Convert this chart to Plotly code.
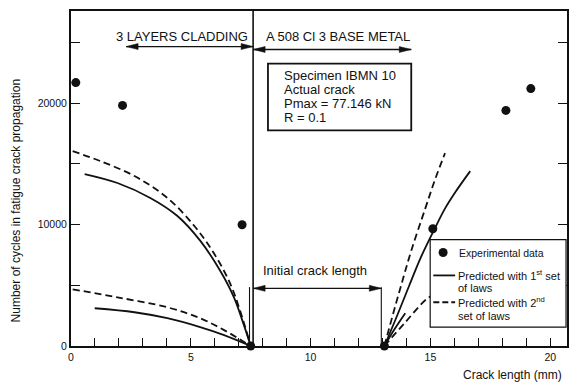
import plotly.graph_objects as go

FONT = "Liberation Sans, Arial, Helvetica, sans-serif"
INK = "#111111"

# Experimental crack depths (mm) and cycle counts
exp_x = [0.2, 2.15, 7.14, 7.5, 13.08, 15.1, 18.15, 19.19]
exp_y = [21700, 19820, 9990, 0, 0, 9660, 19410, 21210]

# Predictions on the cladding side (crack growing towards the clad surface)
clad_set1_upper_x = [0.57, 1.94, 3.31, 4.43, 5.39, 6.22, 6.8, 7.22, 7.5]
clad_set1_upper_y = [14170, 13430, 12200, 10730, 8680, 6220, 4010, 1700, 0]
clad_set2_upper_x = [0.07, 1.23, 2.65, 4.02, 5.14, 5.97, 6.64, 7.05, 7.5]
clad_set2_upper_y = [16050, 15230, 14000, 12200, 9910, 7620, 5160, 2950, 0]
clad_set1_lower_x = [0.99, 2.65, 4.02, 5.39, 6.39, 7.5]
clad_set1_lower_y = [3110, 2780, 2290, 1560, 900, 0]
clad_set2_lower_x = [0.07, 1.94, 4.02, 5.39, 6.39, 7.5]
clad_set2_lower_y = [4670, 4010, 3190, 2290, 1310, 0]

# Predictions on the base metal side
base_set1_upper_x = [13.08, 13.6, 14.1, 14.6, 15.2, 15.6, 16.03, 16.66]
base_set1_upper_y = [0, 2450, 4900, 7300, 9750, 11300, 12650, 14410]
base_set2_upper_x = [13.08, 13.45, 13.8, 14.2, 14.78, 15.2, 15.61]
base_set2_upper_y = [0, 2700, 5150, 7850, 11300, 13750, 15890]
base_set1_lower_x = [13.08, 13.5, 13.95]
base_set1_lower_y = [0, 1380, 2700]
base_set2_lower_x = [13.08, 13.95, 14.83, 15.3]
base_set2_lower_y = [0, 1950, 3850, 4400]

# Axis ticks
x_tick_vals = [0, 5, 10, 15, 20]
x_tick_text = ["0", "5", "10", "15", "20"]
y_tick_vals = [0, 10000, 20000]
y_tick_text = ["0", "10000", "20000"]

# Geometry of the specimen
interface_x = 7.6          # cladding / base metal interface
crack_start_x = 7.45
crack_end_x = 12.95

DASH = "7px,4px"
LW = 1.8

fig = go.Figure()

curves = [
    (clad_set1_upper_x, clad_set1_upper_y, "solid"),
    (clad_set2_upper_x, clad_set2_upper_y, DASH),
    (clad_set1_lower_x, clad_set1_lower_y, "solid"),
    (clad_set2_lower_x, clad_set2_lower_y, DASH),
    (base_set1_upper_x, base_set1_upper_y, "solid"),
    (base_set2_upper_x, base_set2_upper_y, DASH),
    (base_set1_lower_x, base_set1_lower_y, "solid"),
    (base_set2_lower_x, base_set2_lower_y, DASH),
]
for cx, cy, dash in curves:
    fig.add_trace(go.Scatter(
        x=cx, y=cy, mode="lines",
        line=dict(color=INK, width=LW, dash=dash, shape="spline", smoothing=1.0),
        showlegend=False, hoverinfo="skip", cliponaxis=False,
    ))

fig.add_trace(go.Scatter(
    x=exp_x, y=exp_y, mode="markers",
    marker=dict(color=INK, size=9, line=dict(width=0)),
    showlegend=False, cliponaxis=False,
))

shapes = []
# interface line
shapes.append(dict(type="line", xref="x", yref="paper", x0=interface_x, x1=interface_x,
                   y0=0, y1=1, line=dict(color=INK, width=1.6)))
# extension lines of the initial crack length dimension
shapes.append(dict(type="line", xref="x", yref="y", x0=crack_start_x, x1=crack_start_x,
                   y0=0, y1=4850, line=dict(color=INK, width=1.1)))
shapes.append(dict(type="line", xref="x", yref="y", x0=crack_end_x, x1=crack_end_x,
                   y0=0, y1=4850, line=dict(color=INK, width=1.1)))


def harrow(x0, x1, y):
    """Horizontal dimension arrow with filled heads at both ends."""
    shapes.append(dict(type="line", xref="x", yref="y", x0=x0, x1=x1, y0=y, y1=y,
                       line=dict(color=INK, width=1.3)))
    for xa, head in ((x1, "M0,0 L-12,3 L-12,-3 Z"), (x0, "M0,0 L12,3 L12,-3 Z")):
        shapes.append(dict(type="path", xref="x", yref="y", xsizemode="pixel",
                           ysizemode="pixel", xanchor=xa, yanchor=y, path=head,
                           fillcolor=INK, line=dict(color=INK, width=0.5)))


harrow(2.3, interface_x, 24670)
harrow(interface_x, 14.2, 24430)
harrow(interface_x, crack_end_x, 4750)

# specimen box
shapes.append(dict(type="rect", xref="x", yref="y", x0=8.22, x1=14.2, y0=17770, y1=23260,
                   line=dict(color=INK, width=1.8), fillcolor="white", layer="above"))
# key box
shapes.append(dict(type="rect", xref="x", yref="y", x0=14.99, x1=20.66, y0=1560, y1=8760,
                   line=dict(color=INK, width=1.2), fillcolor="white", layer="above"))
# key symbols
shapes.append(dict(type="circle", xref="x", yref="y", xsizemode="pixel", ysizemode="pixel",
                   xanchor=15.53, yanchor=7700, x0=-4.5, x1=4.5, y0=-4.5, y1=4.5,
                   fillcolor=INK, line=dict(width=0), layer="above"))
shapes.append(dict(type="line", xref="x", yref="y", x0=15.12, x1=16.03, y0=5815, y1=5815,
                   line=dict(color=INK, width=LW), layer="above"))
shapes.append(dict(type="line", xref="x", yref="y", x0=15.12, x1=16.03, y0=3604, y1=3604,
                   line=dict(color=INK, width=LW, dash="6px,3px"), layer="above"))

annotations = []


def text(x, y, s, size=13, anchor="center", xref="x", yref="y", angle=0):
    annotations.append(dict(x=x, y=y, xref=xref, yref=yref, text=s, showarrow=False,
                            xanchor=anchor, yanchor="middle", textangle=angle,
                            font=dict(family=FONT, size=size, color=INK)))


text(4.64, 25490, "3 LAYERS CLADDING")
text(11.13, 25490, "A 508 Cl 3 BASE METAL")

text(8.8, 22280, "Specimen IBMN 10", anchor="left")
text(8.8, 21130, "Actual crack", anchor="left")
text(8.8, 19980, "Pmax = 77.146 kN", anchor="left")
text(8.8, 18840, "R = 0.1", anchor="left")

text(10.17, 6224, "Initial crack length")

text(16.1, 7700, "Experimental data", size=10.5, anchor="left")
text(16.06, 5815, "Predicted with 1<sup>st</sup> set", size=11, anchor="left")
text(16.06, 4750, "of laws", size=11, anchor="left")
text(16.06, 3604, "Predicted with 2<sup>nd</sup>", size=11, anchor="left")
text(16.06, 2457, "set of laws", size=11, anchor="left")

text(0.994, -0.086, "Crack length (mm)", size=12, anchor="right", xref="paper", yref="paper")
text(-0.11, 0.433, "Number of cycles in fatigue crack propagation", size=12,
     xref="paper", yref="paper", angle=-90)

fig.update_layout(
    width=578, height=385,
    margin=dict(l=71, r=9, t=9, b=39),
    paper_bgcolor="white", plot_bgcolor="white",
    font=dict(family=FONT, color=INK),
    showlegend=False,
    shapes=shapes,
    annotations=annotations,
    xaxis=dict(range=[0, 20.7], showline=True, linewidth=2, linecolor=INK, mirror=True,
               ticks="inside", ticklen=8, tickwidth=1.3, tickcolor=INK,
               tickvals=x_tick_vals, ticktext=x_tick_text,
               minor=dict(ticks="inside", dtick=1, tick0=0, ticklen=8, tickwidth=1.3,
                          tickcolor=INK, showgrid=False),
               tickfont=dict(size=10.5, family=FONT, color=INK),
               showgrid=False, zeroline=False, fixedrange=True),
    yaxis=dict(range=[0, 27600], showline=True, linewidth=2, linecolor=INK, mirror="ticks",
               ticks="inside", ticklen=9, tickwidth=1.3, tickcolor=INK,
               tickvals=y_tick_vals, ticktext=y_tick_text,
               minor=dict(ticks="inside", dtick=5000, tick0=0, ticklen=9, tickwidth=1.3,
                          tickcolor=INK, showgrid=False),
               tickfont=dict(size=10.5, family=FONT, color=INK),
               showgrid=False, zeroline=False, fixedrange=True),
)

fig.write_html("out.html")
